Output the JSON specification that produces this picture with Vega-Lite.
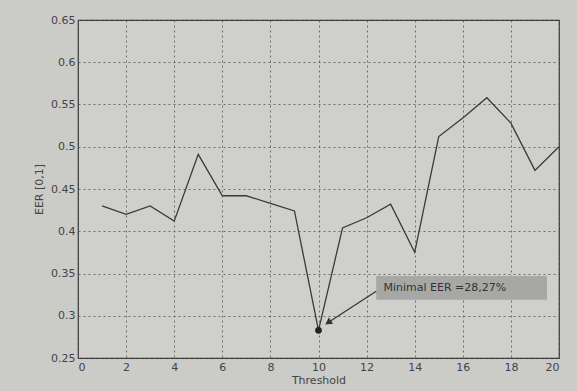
{
  "$schema": "https://vega.github.io/schema/vega-lite/v6.json",
  "autosize": {"type": "none"},
  "width": 481,
  "height": 338,
  "padding": {"left": 78, "top": 20, "right": 18, "bottom": 33},
  "background": "#cbcbc8",
  "config": {
    "view": {"stroke": "#333333", "strokeWidth": 1.2, "fill": "#cfcfcc"},
    "font": "DejaVu Sans",
    "axis": {
      "labelColor": "#444444",
      "titleColor": "#444444",
      "labelFontSize": 11,
      "titleFontSize": 11,
      "titleFontWeight": "normal",
      "gridColor": "#555555",
      "gridDash": [2, 3],
      "gridOpacity": 0.8,
      "domain": false,
      "ticks": false,
      "labelPadding": 3
    }
  },
  "datasets": {
    "eer": [
      {"t": 1, "eer": 0.43},
      {"t": 2, "eer": 0.42},
      {"t": 3, "eer": 0.43},
      {"t": 4, "eer": 0.412},
      {"t": 5, "eer": 0.491},
      {"t": 6, "eer": 0.442},
      {"t": 7, "eer": 0.442},
      {"t": 8, "eer": 0.433},
      {"t": 9, "eer": 0.424},
      {"t": 10, "eer": 0.2827},
      {"t": 11, "eer": 0.404},
      {"t": 12, "eer": 0.416},
      {"t": 13, "eer": 0.432},
      {"t": 14, "eer": 0.375},
      {"t": 15, "eer": 0.512},
      {"t": 16, "eer": 0.534},
      {"t": 17, "eer": 0.558},
      {"t": 18, "eer": 0.528},
      {"t": 19, "eer": 0.472},
      {"t": 20, "eer": 0.5}
    ],
    "minpt": [{"t": 10, "eer": 0.2827}],
    "box": [{"x1": 12.4, "x2": 19.5, "y1": 0.319, "y2": 0.347, "tx": 12.7, "ty": 0.333, "label": "Minimal EER =28,27%"}],
    "arrow": [{"x1": 12.4, "y1": 0.329, "x2": 10.45, "y2": 0.293}],
    "head": [{"x": 10.4, "y": 0.292}]
  },
  "layer": [
    {
      "data": {"name": "eer"},
      "mark": {"type": "line", "color": "#3a3a3a", "strokeWidth": 1.3},
      "encoding": {
        "x": {
          "field": "t", "type": "quantitative", "title": "Threshold",
          "scale": {"domain": [0, 20], "nice": false},
          "axis": {"values": [0, 2, 4, 6, 8, 10, 12, 14, 16, 18, 20], "grid": true, "titlePadding": 2}
        },
        "y": {
          "field": "eer", "type": "quantitative", "title": "EER [0,1]",
          "scale": {"domain": [0.25, 0.65], "nice": false, "zero": false},
          "axis": {"values": [0.25, 0.3, 0.35, 0.4, 0.45, 0.5, 0.55, 0.6, 0.65], "format": ".2~f", "grid": true, "titlePadding": 6}
        }
      }
    },
    {
      "data": {"name": "box"},
      "mark": {"type": "rect", "color": "#a7a7a5"},
      "encoding": {
        "x": {"field": "x1", "type": "quantitative"},
        "x2": {"field": "x2"},
        "y": {"field": "y1", "type": "quantitative"},
        "y2": {"field": "y2"}
      }
    },
    {
      "data": {"name": "box"},
      "mark": {"type": "text", "align": "left", "baseline": "middle", "fontSize": 11, "color": "#333333"},
      "encoding": {
        "x": {"field": "tx", "type": "quantitative"},
        "y": {"field": "ty", "type": "quantitative"},
        "text": {"field": "label"}
      }
    },
    {
      "data": {"name": "arrow"},
      "mark": {"type": "rule", "color": "#333333", "strokeWidth": 1.2},
      "encoding": {
        "x": {"field": "x1", "type": "quantitative"},
        "x2": {"field": "x2"},
        "y": {"field": "y1", "type": "quantitative"},
        "y2": {"field": "y2"}
      }
    },
    {
      "data": {"name": "head"},
      "mark": {"type": "point", "shape": "triangle-up", "filled": true, "color": "#333333", "size": 60, "angle": 236, "opacity": 1},
      "encoding": {
        "x": {"field": "x", "type": "quantitative"},
        "y": {"field": "y", "type": "quantitative"}
      }
    },
    {
      "data": {"name": "minpt"},
      "mark": {"type": "point", "shape": "circle", "filled": true, "color": "#222222", "size": 45, "opacity": 1},
      "encoding": {
        "x": {"field": "t", "type": "quantitative"},
        "y": {"field": "eer", "type": "quantitative"}
      }
    }
  ]
}
